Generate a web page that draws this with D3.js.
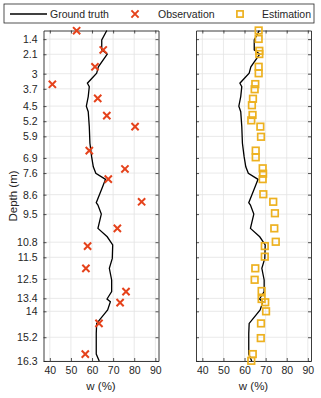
<!DOCTYPE html>
<html><head><meta charset="utf-8">
<script src="https://cdn.jsdelivr.net/npm/d3@7/dist/d3.min.js"></script>
<style>
body{margin:0;background:#fff;}
svg{display:block;font-family:"Liberation Sans",Arial,Helvetica,sans-serif;}
</style></head><body>
<svg id="c" width="321" height="398"></svg>
<script>
// Ground truth (w %, depth m)
const truthW = [67.0,64.6,64.6,67.2,63.0,62.2,57.8,58.7,58.2,57.3,58.2,58.7,59.0,59.8,60.6,61.8,66.4,64.4,62.0,62.8,64.4,62.8,67.2,69.8,69.6,68.2,69.3,69.3,67.1,68.7,67.4,62.2,62.0,62.0,63.4];
const truthD = [1.0,1.44,1.90,2.09,2.68,2.98,3.44,3.60,4.06,4.50,4.76,5.45,6.22,6.84,7.31,7.61,7.89,8.38,8.97,9.08,9.50,10.16,10.55,10.93,11.55,12.01,12.55,13.09,13.43,13.56,13.94,14.56,15.02,15.98,16.30];
// Observations
const obsW = [52.7,65.3,61.4,41.2,62.7,67.0,80.4,58.7,75.6,67.7,83.5,72.0,57.9,57.1,76.1,73.3,63.3,56.8];
const obsD = [1.01,1.90,2.68,3.49,4.14,4.94,5.45,6.56,7.41,7.88,8.93,10.16,10.98,12.01,13.09,13.60,14.56,15.98];
// Estimations
const estW = [66.7,66.7,67.0,67.0,66.7,66.7,65.1,64.8,64.0,63.5,63.8,63.2,67.5,67.8,65.3,65.3,68.6,68.8,68.6,68.9,73.6,74.4,74.1,74.8,69.6,69.6,65.1,64.8,68.1,68.1,69.8,70.2,67.8,67.7,63.9,63.2];
const estD = [1.0,1.39,1.94,2.09,2.68,2.98,3.48,3.72,4.16,4.46,4.91,5.16,5.45,5.92,6.56,6.87,7.38,7.63,7.88,8.58,8.93,9.46,10.16,10.78,10.98,11.47,12.01,12.54,13.06,13.43,13.58,14.0,14.56,15.24,15.98,16.29];
// Ticks
const depthTicks = [1.4,2.1,3,3.7,4.5,5.2,5.9,6.9,7.6,8.6,9.5,10.8,11.5,12.5,13.4,14,15.2,16.3];
const wTicks = [40,50,60,70,80,90];
const legendLabels = ["Ground truth","Observation","Estimation"];

const svg = d3.select("#c");
const axisCol = "#262626", gridCol = "#e3e3e3";
const obsCol = "#E5421B", estCol = "#EDB120";
const plotTop = 30.5, plotBottom = 361;
const y = d3.scaleLinear().domain([1,16.3]).range([plotTop,plotBottom]);

function panel(x0, x1, showY, drawFn){
  const x = d3.scaleLinear().domain([37,91.5]).range([x0,x1]);
  const g = svg.append("g");
  // grid
  g.selectAll(".gx").data(wTicks).enter().append("line")
    .attr("x1",d=>x(d)).attr("x2",d=>x(d)).attr("y1",plotTop).attr("y2",plotBottom)
    .attr("stroke",gridCol).attr("stroke-width",0.8);
  g.selectAll(".gy").data(depthTicks).enter().append("line")
    .attr("x1",x0).attr("x2",x1).attr("y1",d=>y(d)).attr("y2",d=>y(d))
    .attr("stroke",gridCol).attr("stroke-width",0.8);
  // axes (ticks inward)
  const ax = d3.axisBottom(x).tickValues(wTicks).tickSizeInner(-3).tickSizeOuter(0).tickPadding(6);
  const gb = g.append("g").attr("transform",`translate(0,${plotBottom})`).call(ax);
  const gt = g.append("g").attr("transform",`translate(0,${plotTop})`).call(d3.axisTop(x).tickValues(wTicks).tickSizeInner(-3).tickSizeOuter(0).tickFormat(""));
  const gl = g.append("g").attr("transform",`translate(${x0},0)`).call(d3.axisLeft(y).tickValues(depthTicks).tickSizeInner(-3).tickSizeOuter(0).tickPadding(6).tickFormat(showY? d3.format("") : ""));
  const gr = g.append("g").attr("transform",`translate(${x1},0)`).call(d3.axisRight(y).tickValues(depthTicks).tickSizeInner(-3).tickSizeOuter(0).tickFormat(""));
  [gb,gt,gl,gr].forEach(a=>{
    a.select(".domain").attr("stroke",axisCol).attr("stroke-width",0.9);
    a.selectAll(".tick line").attr("stroke",axisCol).attr("stroke-width",0.8);
    a.selectAll("text").attr("fill",axisCol).style("font-size","10.5px").attr("font-family","Liberation Sans, Arial, sans-serif");
  });
  g.append("text").attr("x",(x0+x1)/2).attr("y",390).attr("text-anchor","middle")
    .attr("fill",axisCol).style("font-size","11.5px").text("w (%)");
  // line
  const line = d3.line().x((d,i)=>x(truthW[i])).y((d,i)=>y(truthD[i]));
  g.append("path").datum(truthD).attr("d",line).attr("fill","none").attr("stroke","#000").attr("stroke-width",1.3);
  drawFn(g,x);
}

function drawX(g,cx,cy,s){
  g.append("path").attr("d",`M${cx-s},${cy-s}L${cx+s},${cy+s}M${cx-s},${cy+s}L${cx+s},${cy-s}`)
    .attr("stroke",obsCol).attr("stroke-width",2).attr("fill","none");
}
function drawSq(g,cx,cy,s){
  g.append("rect").attr("x",cx-s).attr("y",cy-s).attr("width",2*s).attr("height",2*s)
    .attr("fill","none").attr("stroke",estCol).attr("stroke-width",1.7);
}

panel(43.5,158.5,true,(g,x)=>{
  obsD.forEach((d,i)=>drawX(g,x(obsW[i]),y(d),3.6));
});
panel(196,311,false,(g,x)=>{
  estD.forEach((d,i)=>drawSq(g,x(estW[i]),y(d),3.3));
});

// y label
svg.append("text").attr("transform","translate(17,196) rotate(-90)").attr("text-anchor","middle")
  .attr("fill",axisCol).style("font-size","11.5px").text("Depth (m)");

// legend
const lg = svg.append("g");
lg.append("rect").attr("x",4).attr("y",4).attr("width",310).attr("height",19)
  .attr("fill","#fff").attr("stroke",axisCol).attr("stroke-width",0.8);
lg.append("line").attr("x1",10).attr("x2",47).attr("y1",14).attr("y2",14).attr("stroke","#000").attr("stroke-width",1.3);
drawX(lg,135,14,3.6);
drawSq(lg,240,14,3.1);
const lx=[50,158,262];
legendLabels.forEach((t,i)=>lg.append("text").attr("x",lx[i]).attr("y",17.8).attr("fill",axisCol)
  .style("font-size","10.5px").text(t));
</script></body></html>
